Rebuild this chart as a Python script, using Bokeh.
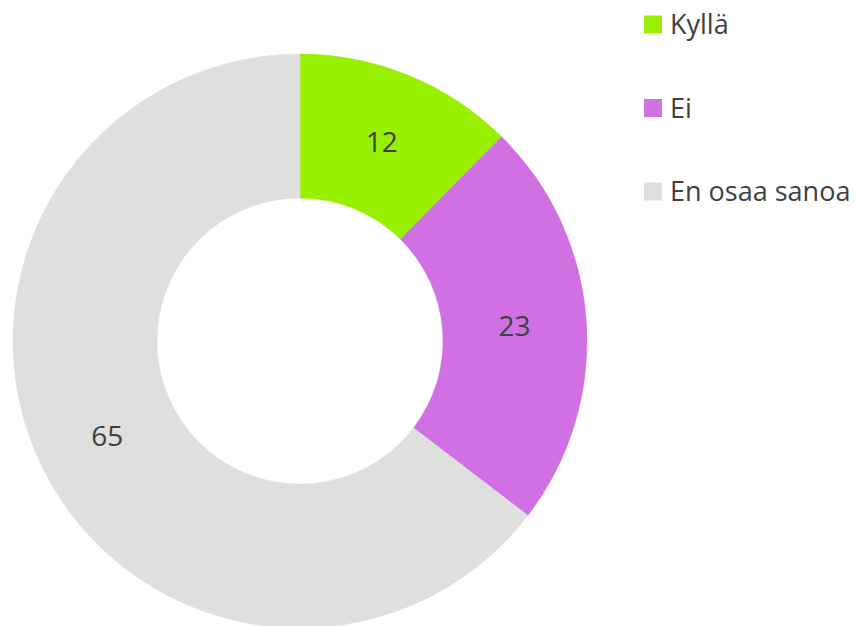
import math
from bokeh.plotting import figure
from bokeh.models import Range1d, ColumnDataSource
from bokeh.core.properties import value
from bokeh.embed import file_html
from bokeh.resources import INLINE

categories = ["Kyllä", "Ei", "En osaa sanoa"]
values = [12.4, 23.0, 64.6]
colors = ["#99EF00", "#D070E2", "#DFDFDF"]

# layout (pixel-like data units; y measured up from the bottom of the figure)
W, H = 856, 626
cx, cy = 299.5, H - 340.5
r_in, r_out = 143, 287
text_color = "#404040"
font = "Open Sans"

total = sum(values)
starts, ends, lx, ly = [], [], [], []
cum = 0
for v in values:
    a0 = math.pi / 2 - 2 * math.pi * cum / total
    cum += v
    a1 = math.pi / 2 - 2 * math.pi * cum / total
    starts.append(a0)
    ends.append(a1)
    mid = (a0 + a1) / 2
    rm = (r_in + r_out) / 2
    lx.append(cx + rm * math.cos(mid))
    ly.append(cy + rm * math.sin(mid))

src = ColumnDataSource(dict(cat=categories, val=values, col=colors,
                            start=starts, end=ends, lx=lx, ly=ly,
                            txt=[str(round(v)) for v in values]))

p = figure(width=W, height=H, output_backend="svg", toolbar_location=None,
           x_range=Range1d(0, W), y_range=Range1d(0, H),
           min_border=0)
p.axis.visible = False
p.grid.visible = False
p.outline_line_color = None
p.background_fill_color = "white"
p.border_fill_color = "white"

p.annular_wedge(x=cx, y=cy, inner_radius=r_in, outer_radius=r_out,
                start_angle="start", end_angle="end", direction="clock",
                fill_color="col", line_color="col", line_width=0.5, source=src)

p.text(x="lx", y="ly", text="txt", source=src, text_align="center",
       text_baseline="middle", text_color=text_color,
       text_font=value(font), text_font_size="28px")

# legend
leg_x = 652.5
leg_y0 = H - 24
leg_step = 83.5
leg_ys = [leg_y0 - i * leg_step for i in range(len(categories))]
lsrc = ColumnDataSource(dict(x=[leg_x] * len(categories), y=leg_ys,
                             tx=[leg_x + 17] * len(categories),
                             ty=[y + 1 for y in leg_ys],
                             cat=categories, col=colors))
p.rect(x="x", y="y", width=18, height=18, width_units="screen",
       height_units="screen", fill_color="col", line_color=None, source=lsrc)
p.text(x="tx", y="ty", text="cat", source=lsrc,
       text_align="left", text_baseline="middle", text_color=text_color,
       text_font=value(font), text_font_size="27px")

open("out.html", "w").write(file_html(p, INLINE))
